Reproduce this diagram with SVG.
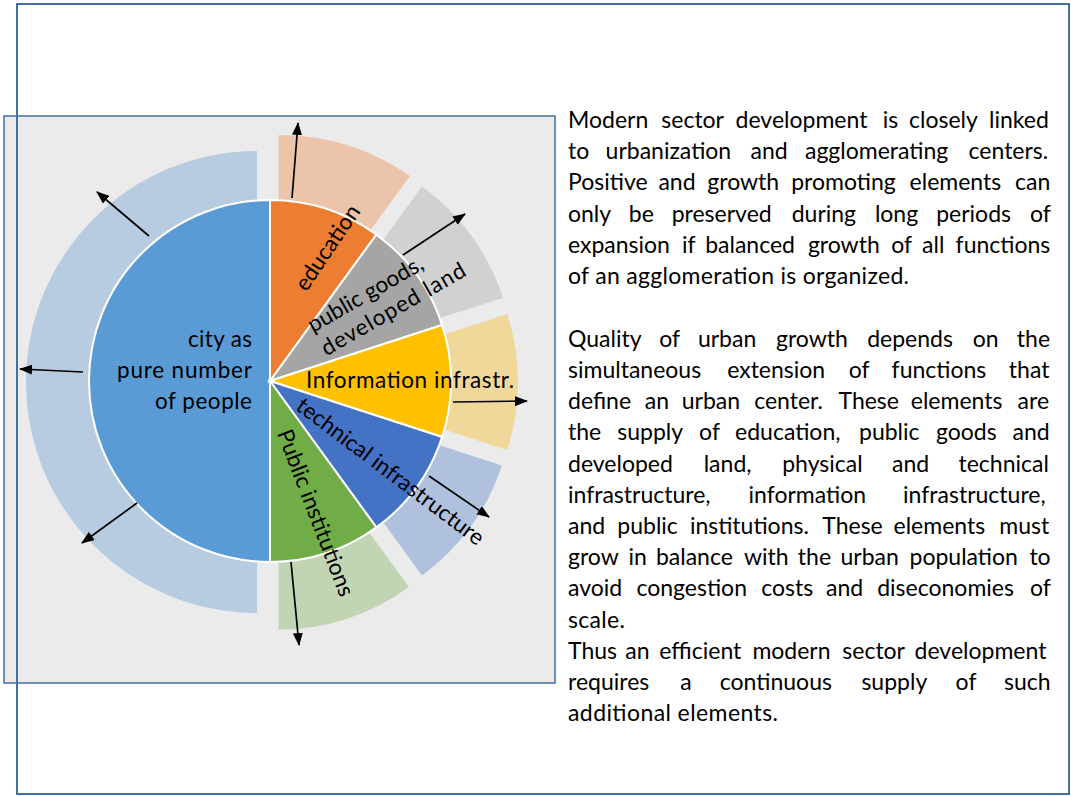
<svg xmlns="http://www.w3.org/2000/svg" width="1071" height="796" viewBox="0 0 1071 796">
<defs>
<style>
.frame{fill:none;stroke:#41719c;stroke-width:2}
.panel{fill:#ebebeb;stroke:#41719c;stroke-width:1.5}
.slice{stroke:#fff;stroke-width:2}
.lbl{font-family:Lato,"Open Sans",sans-serif;font-size:22.5px;fill:#000}
.par{font-family:Lato,"Open Sans",sans-serif;font-size:23px;fill:#000}
.arr{stroke:#000;stroke-width:1.7;fill:none;marker-end:url(#ah)}
</style>
<marker id="ah" markerWidth="13" markerHeight="10" refX="12" refY="5" orient="auto" markerUnits="userSpaceOnUse"><path d="M0,0 L13,5 L0,10 z" fill="#000"/></marker>
</defs>
<rect x="0" y="0" width="1071" height="796" fill="#fff"/>
<rect class="panel" x="4" y="116" width="551" height="567"/>
<rect class="frame" x="17" y="4" width="1052" height="790"/>

<g id="outer-ring">
<path d="M257,382 L257,613 A231,231 0 0 1 257,151 Z" fill="#b8cce1"/>
<path d="M278.65,355.37 L278.65,135.37 A221,221 0 0 1 410,176 Z" fill="#ebc4a9"/>
<path d="M292.65,364.54 L421.96,186.56 A220,220 0 0 1 503,298 Z" fill="#d1d1d1"/>
<path d="M298,382 L507.23,314.02 A220,220 0 0 1 507.23,449.98 Z" fill="#f0d89b"/>
<path d="M292.65,397.46 L501.88,465.44 A220,220 0 0 1 421.96,575.44 Z" fill="#b0c1de"/>
<path d="M278.65,408.63 L409,587 A221,221 0 0 1 278.65,629.63 Z" fill="#c2d5b3"/>
</g>

<g id="city">
<path class="slice" d="M270,381 L270,562 A181,181 0 0 1 270,200 Z" fill="#5b9bd5"/>
<text class="lbl" text-anchor="end"><tspan x="252" y="347" textLength="64">city as</tspan><tspan x="252" y="378" textLength="135">pure number</tspan><tspan x="252" y="409" textLength="97">of people</tspan></text>
</g>
<g id="education">
<path class="slice" d="M270,381 L270,200 A181,181 0 0 1 376.39,234.57 Z" fill="#ed7d31"/>
</g>
<g id="public-goods">
<path class="slice" d="M270,381 L376.39,234.57 A181,181 0 0 1 442.14,325.07 Z" fill="#a5a5a5"/>
</g>
<g id="information">
<path class="slice" d="M270,381 L442.14,325.07 A181,181 0 0 1 442.14,436.93 Z" fill="#ffc000"/>
</g>
<g id="technical">
<path class="slice" d="M270,381 L442.14,436.93 A181,181 0 0 1 376.39,527.43 Z" fill="#4472c4"/>
</g>
<g id="public-institutions">
<path class="slice" d="M270,381 L376.39,527.43 A181,181 0 0 1 270,562 Z" fill="#70ad47"/>
</g>

<g id="slice-labels">
<text class="lbl" text-anchor="middle" transform="translate(328,248) rotate(-56)" x="0" y="7">education</text>
<text class="lbl" transform="translate(313,333) rotate(-30)" x="0" y="0">public goods,</text>
<text class="lbl" transform="translate(326.5,356.4) rotate(-30)" x="0" y="0" textLength="163">developed land</text>
<text class="lbl" x="306" y="388" textLength="208">Information infrastr.</text>
<text class="lbl" text-anchor="middle" transform="translate(390,472) rotate(37)" x="0" y="7">technical infrastructure</text>
<text class="lbl" text-anchor="middle" transform="translate(315,513) rotate(69)" x="0" y="7">Public institutions</text>
</g>

<g id="connectors">
<line class="arr" x1="292" y1="198" x2="298" y2="123"/>
<line class="arr" x1="403" y1="255" x2="465" y2="214"/>
<line class="arr" x1="453" y1="402" x2="527" y2="401"/>
<line class="arr" x1="429" y1="476" x2="489" y2="517"/>
<line class="arr" x1="291" y1="562" x2="299" y2="645"/>
<line class="arr" x1="149" y1="236" x2="97" y2="192"/>
<line class="arr" x1="83" y1="372" x2="20" y2="369"/>
<line class="arr" x1="137" y1="503" x2="82" y2="543"/>
</g>

<g id="description">
<text class="par" y="128"><tspan x="568">Modern</tspan><tspan x="661.3">sector</tspan><tspan x="735.6">development</tspan><tspan x="882.7">is</tspan><tspan x="909">closely</tspan><tspan x="989">linked</tspan></text>
<text class="par" y="159"><tspan x="568">to</tspan><tspan x="605.6">urbanization</tspan><tspan x="750.6">and</tspan><tspan x="805">agglomerating</tspan><tspan x="968.6">centers.</tspan></text>
<text class="par" y="190"><tspan x="568">Positive</tspan><tspan x="658.4">and</tspan><tspan x="707.3">growth</tspan><tspan x="791.2">promoting</tspan><tspan x="909.6">elements</tspan><tspan x="1015">can</tspan></text>
<text class="par" y="222"><tspan x="568">only</tspan><tspan x="628.8">be</tspan><tspan x="671.7">preserved</tspan><tspan x="791.7">during</tspan><tspan x="874.9">long</tspan><tspan x="936.2">periods</tspan><tspan x="1030">of</tspan></text>
<text class="par" y="253"><tspan x="568">expansion</tspan><tspan x="681.9">if</tspan><tspan x="705.2">balanced</tspan><tspan x="807.9">growth</tspan><tspan x="891.3">of</tspan><tspan x="922.1">all</tspan><tspan x="955.6">functions</tspan></text>
<text class="par" x="568" y="284" textLength="341">of an agglomeration is organized.</text>

<text class="par" y="347"><tspan x="568">Quality</tspan><tspan x="659.3">of</tspan><tspan x="697.9">urban</tspan><tspan x="776">growth</tspan><tspan x="867.2">depends</tspan><tspan x="972.7">on</tspan><tspan x="1016.8">the</tspan></text>
<text class="par" y="378"><tspan x="568">simultaneous</tspan><tspan x="727.2">extension</tspan><tspan x="848.8">of</tspan><tspan x="891.6">functions</tspan><tspan x="1008.8">that</tspan></text>
<text class="par" y="409"><tspan x="568">define</tspan><tspan x="644.8">an</tspan><tspan x="681.8">urban</tspan><tspan x="754.2">center.</tspan><tspan x="838.5">These</tspan><tspan x="910.8">elements</tspan><tspan x="1017.6">are</tspan></text>
<text class="par" y="440"><tspan x="568">the</tspan><tspan x="617.3">supply</tspan><tspan x="699.1">of</tspan><tspan x="735.1">education,</tspan><tspan x="859">public</tspan><tspan x="935.9">goods</tspan><tspan x="1012.5">and</tspan></text>
<text class="par" y="472"><tspan x="568">developed</tspan><tspan x="703.7">land,</tspan><tspan x="782.2">physical</tspan><tspan x="892.1">and</tspan><tspan x="958.5">technical</tspan></text>
<text class="par" y="503"><tspan x="568">infrastructure,</tspan><tspan x="748.6">information</tspan><tspan x="903.1">infrastructure,</tspan></text>
<text class="par" y="534"><tspan x="568">and</tspan><tspan x="617.3">public</tspan><tspan x="689.9">institutions.</tspan><tspan x="822.3">These</tspan><tspan x="893.5">elements</tspan><tspan x="999.3">must</tspan></text>
<text class="par" y="565"><tspan x="568">grow</tspan><tspan x="628.4">in</tspan><tspan x="655.9">balance</tspan><tspan x="743.9">with</tspan><tspan x="797.8">the</tspan><tspan x="840.5">urban</tspan><tspan x="909.5">population</tspan><tspan x="1029.4">to</tspan></text>
<text class="par" y="596"><tspan x="568">avoid</tspan><tspan x="636.4">congestion</tspan><tspan x="761.2">costs</tspan><tspan x="826">and</tspan><tspan x="877.2">diseconomies</tspan><tspan x="1030">of</tspan></text>
<text class="par" x="568" y="628" textLength="57">scale.</text>

<text class="par" y="659"><tspan x="568">Thus</tspan><tspan x="625.3">an</tspan><tspan x="659.3">efficient</tspan><tspan x="752.4">modern</tspan><tspan x="842.3">sector</tspan><tspan x="914.6">development</tspan></text>
<text class="par" y="690"><tspan x="568">requires</tspan><tspan x="680.2">a</tspan><tspan x="719.8">continuous</tspan><tspan x="861.4">supply</tspan><tspan x="955.6">of</tspan><tspan x="1004">such</tspan></text>
<text class="par" x="568" y="721" textLength="210">additional elements.</text>
</g>
</svg>
